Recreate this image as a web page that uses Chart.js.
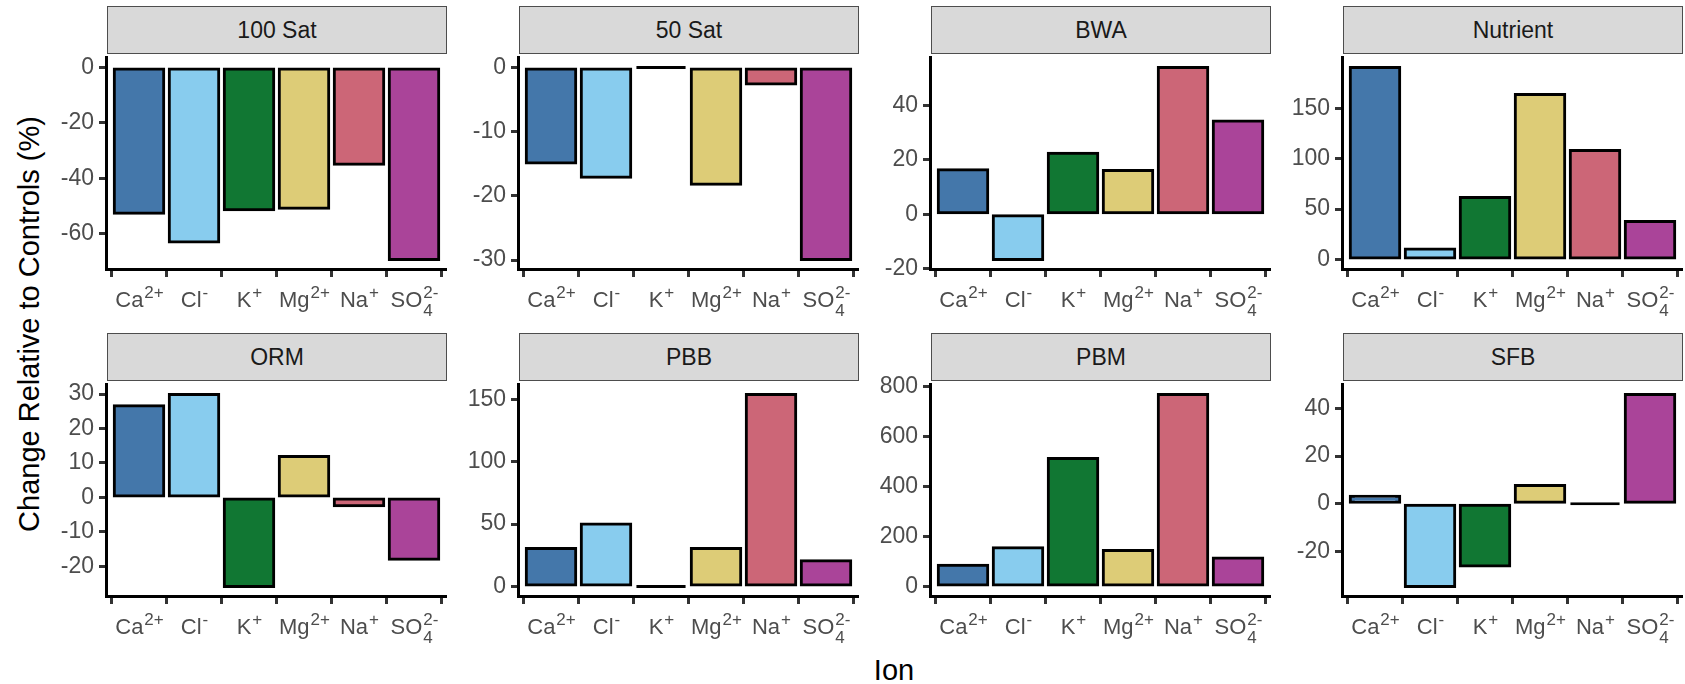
<!DOCTYPE html>
<html>
<head>
<meta charset="utf-8">
<script src="https://cdn.jsdelivr.net/npm/chart.js@4.4.1/dist/chart.umd.min.js"></script>
<style>
  body { margin: 0; background: #fff; width: 1685px; height: 684px; position: relative; overflow: hidden;
         font-family: "Liberation Sans", Arial, sans-serif; }
  .strip { position: absolute; background: #D9D9D9; border: 1.5px solid #4d4d4d; box-sizing: border-box;
           display: flex; align-items: center; justify-content: center; color: #1A1A1A; font-size: 23px; }
  canvas { position: absolute; }
  .ytitle { position: absolute; font-size: 29px; color: #000; white-space: nowrap;
            transform: translate(-50%, -50%) rotate(-90deg); }
  .xtitle { position: absolute; font-size: 29px; line-height: 29px; color: #000; transform: translateX(-50%); }
</style>
</head>
<body>
<div class="ytitle" style="left:29px; top:324px;">Change Relative to Controls (%)</div>
<div class="xtitle" style="left:894px; top:656px;">Ion</div>
<script>
// === DATOS ===
const ionBase   = ['Ca', 'Cl', 'K', 'Mg', 'Na', 'SO'];
const ionCharge = ['2+', '-', '+', '2+', '+', '2-'];
const ionSub    = ['', '', '', '', '', '4'];
const ionColors = ['#4477AA', '#88CCEE', '#117733', '#DDCC77', '#CC6677', '#AA4499'];

const panelNames = ['100 Sat', '50 Sat', 'BWA', 'Nutrient', 'ORM', 'PBB', 'PBM', 'SFB'];

const sat100   = [-52.6, -63.0, -51.4, -50.8, -35.0, -69.3];
const sat50    = [-14.9, -17.1, 0, -18.2, -2.6, -29.9];
const bwa      = [16.4, -16.6, 22.4, 16.1, 54.0, 34.3];
const nutrient = [191, 10.4, 61.6, 164, 108.3, 37.7];
const orm      = [26.6, 29.9, -25.8, 11.9, -2.4, -17.9];
const pbb      = [30.3, 50.0, 0, 30.3, 154, 20.5];
const pbm      = [85, 155, 512, 144, 768, 114];
const sfb      = [3.2, -34.6, -26.1, 7.7, 0, 45.8];

const ticks100Sat   = [-60, -40, -20, 0];
const ticks50Sat    = [-30, -20, -10, 0];
const ticksBWA      = [-20, 0, 20, 40];
const ticksNutrient = [0, 50, 100, 150];
const ticksORM      = [-20, -10, 0, 10, 20, 30];
const ticksPBB      = [0, 50, 100, 150];
const ticksPBM      = [0, 200, 400, 600, 800];
const ticksSFB      = [-20, 0, 20, 40];

const panelValues = [sat100, sat50, bwa, nutrient, orm, pbb, pbm, sfb];
const panelTicks  = [ticks100Sat, ticks50Sat, ticksBWA, ticksNutrient, ticksORM, ticksPBB, ticksPBM, ticksSFB];

// === LAYOUT ===
const colLefts = [106, 518, 930, 1342];
const rowTops = [54, 381];
const PANEL_W = 341, PANEL_H = 215;
const Y_AXIS_W = 70, X_AXIS_H = 60, TOP_PAD = 15;
const FONT = '"Liberation Sans", Arial, sans-serif';

// etiquetas de iones con superindice / subindice
const ionLabels = {
  id: 'ionLabels',
  afterDraw(chart) {
    const ctx = chart.ctx;
    const xs = chart.scales.x;
    const yBase = chart.chartArea.bottom + 38;
    ionBase.forEach((base, i) => {
      ctx.save();
      ctx.fillStyle = '#4D4D4D';
      ctx.textAlign = 'left';
      ctx.textBaseline = 'alphabetic';
      ctx.font = '22px ' + FONT;
      const wb = ctx.measureText(base).width;
      ctx.font = '17px ' + FONT;
      const ws = Math.max(ctx.measureText(ionCharge[i]).width, ctx.measureText(ionSub[i]).width);
      const x0 = xs.getPixelForValue(i) - (wb + ws) / 2;
      ctx.font = '22px ' + FONT;
      ctx.fillText(base, x0, yBase);
      ctx.font = '17px ' + FONT;
      ctx.fillText(ionCharge[i], x0 + wb + 1, yBase - 9);
      if (ionSub[i]) ctx.fillText(ionSub[i], x0 + wb + 1, yBase + 9);
      ctx.restore();
    });
  }
};

Chart.defaults.font.family = FONT;

function makePanel(p) {
  const col = p % 4, row = Math.floor(p / 4);
  const left = colLefts[col], top = rowTops[row];

  const strip = document.createElement('div');
  strip.className = 'strip';
  strip.style.left = (left + 1) + 'px';
  strip.style.top = (top - 48) + 'px';
  strip.style.width = (PANEL_W - 1) + 'px';
  strip.style.height = '48px';
  strip.textContent = panelNames[p];
  document.body.appendChild(strip);

  const cv = document.createElement('canvas');
  cv.width = Y_AXIS_W + PANEL_W;
  cv.height = TOP_PAD + PANEL_H + X_AXIS_H;
  cv.style.left = (left - Y_AXIS_W) + 'px';
  cv.style.top = (top - TOP_PAD) + 'px';
  document.body.appendChild(cv);

  const vals = panelValues[p];
  const lo = Math.min(0, ...vals), hi = Math.max(0, ...vals);
  const pad = (hi - lo) * 0.05;
  const tickVals = panelTicks[p];

  new Chart(cv.getContext('2d'), {
    type: 'bar',
    data: {
      datasets: [{
        data: vals.map((v, i) => ({ x: i, y: v })),
        backgroundColor: ionColors,
        borderColor: '#000',
        borderWidth: 3,
        borderSkipped: false,
        // contorno centrado en el borde de la barra (como ggplot)
        inflateAmount: c => (c.raw && c.raw.y === 0) ? 0 : 1.5,
        barPercentage: 0.9,
        categoryPercentage: 1,
        minBarLength: 3
      }]
    },
    options: {
      responsive: false,
      animation: false,
      layout: { padding: { top: TOP_PAD, left: 0, right: 0, bottom: 0 } },
      plugins: { legend: { display: false }, tooltip: { enabled: false } },
      scales: {
        x: {
          type: 'linear', min: -0.6, max: 5.6, offset: false,
          afterBuildTicks: axis => { axis.ticks = ionBase.map((_, i) => ({ value: i })); },
          afterFit: scale => { scale.height = X_AXIS_H; },
          ticks: { callback: () => '', padding: 0 },
          grid: { display: true, drawOnChartArea: false, drawTicks: true, tickLength: 8, color: '#333', lineWidth: 3 },
          border: { display: true, color: '#000', width: 3 }
        },
        y: {
          min: lo - pad, max: hi + pad,
          afterBuildTicks: axis => { axis.ticks = tickVals.map(v => ({ value: v })); },
          afterFit: scale => { scale.width = Y_AXIS_W; },
          ticks: { color: '#4D4D4D', font: { size: 23 }, padding: 5 },
          grid: { display: true, drawOnChartArea: false, drawTicks: true, tickLength: 7, color: '#333', lineWidth: 3 },
          border: { display: true, color: '#000', width: 3 }
        }
      }
    },
    plugins: [ionLabels]
  });
}

panelNames.forEach((_, p) => makePanel(p));
</script>
</body>
</html>
